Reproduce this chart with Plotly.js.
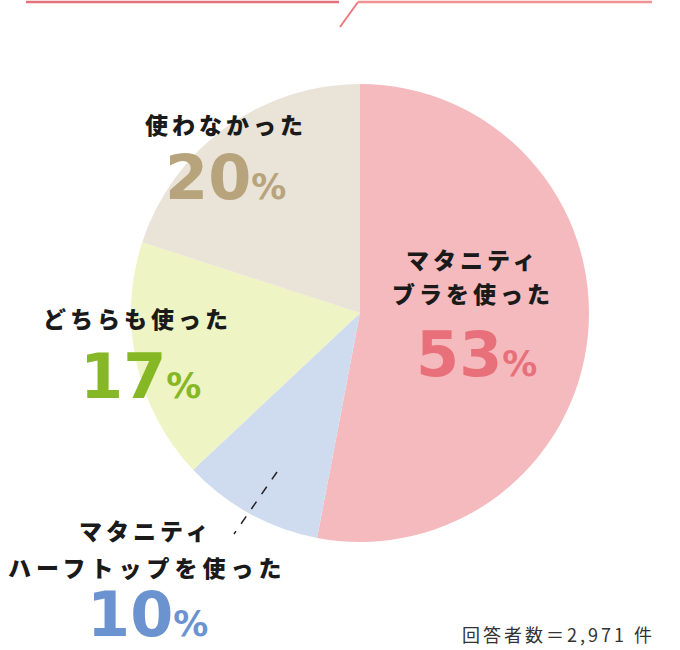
<!DOCTYPE html>
<html>
<head>
<meta charset="utf-8">
<script src="https://cdn.plot.ly/plotly-3.0.1.min.js"></script>
<style>
  body { margin: 0; background: #fff; }
  #myDiv { width: 680px; height: 650px; }
</style>
</head>
<body>
<div id="myDiv"></div>
<script>
// data
let labels = ['マタニティブラを使った', 'マタニティハーフトップを使った', 'どちらも使った', '使わなかった']
let values = [53, 10, 17, 20]
let sliceColors = ['#f5babe', '#cfdcef', '#eef4c4', '#e9e3d8']
let numColors = ['#e8707a', '#6b93d0', '#86b826', '#b8a47c']
let total = 2971

let W = 680
let H = 650

// pixel -> paper helpers
function px (x) { return x / W }
function py (y) { return 1 - y / H }

let jp = '"Noto Sans CJK JP", "Noto Sans", sans-serif'
let num = '"DejaVu Sans", sans-serif'

// label lines for each slice: [text, x, y, letter spacing]
let labelLines = [
  [['マタニティ', 473, 259, 4], ['ブラを使った', 473, 293, 4]],
  [['マタニティ', 146, 530, 4], ['ハーフトップを使った', 147, 567, 5]],
  [['どちらも使った', 137, 318, 4]],
  [['使わなかった', 226, 124, 4]]
]
// percentage position (center x, baseline y)
let pctPos = [[477, 375], [147, 635], [140, 397], [225, 198]]

let annotations = []
labelLines.forEach((lines, i) => {
  lines.forEach(l => {
    annotations.push({
      xref: 'paper', yref: 'paper', x: px(l[1]), y: py(l[2]),
      xanchor: 'center', yanchor: 'middle', showarrow: false,
      text: '<span style="letter-spacing:' + l[3] + 'px">' + l[0] + '</span>',
      font: {family: jp, size: 23, weight: 900, color: '#1a1a1a'}
    })
  })
  annotations.push({
    xref: 'paper', yref: 'paper', x: px(pctPos[i][0]), y: py(pctPos[i][1] - 21),
    xanchor: 'center', yanchor: 'middle', showarrow: false,
    text: values[i] + '<span style="font-size:35px">%</span>',
    font: {family: num, size: 62, weight: 700, color: numColors[i]}
  })
})

annotations.push({
  xref: 'paper', yref: 'paper', x: px(657), y: py(634),
  xanchor: 'right', yanchor: 'middle', showarrow: false,
  text: '<span style="letter-spacing:3px">回答者数＝' + total.toLocaleString('en-US') + ' 件</span>',
  font: {family: jp, size: 18, color: '#333333'}
})

let shapes = [
  // top decoration
  {type: 'line', xref: 'paper', yref: 'paper', x0: px(26), y0: py(2), x1: px(339), y1: py(2),
    line: {color: '#e2717b', width: 2.5}},
  {type: 'line', xref: 'paper', yref: 'paper', x0: px(340), y0: py(27), x1: px(358), y1: py(2),
    line: {color: '#ee7a80', width: 2}},
  {type: 'line', xref: 'paper', yref: 'paper', x0: px(358), y0: py(2), x1: px(652), y1: py(2),
    line: {color: '#f29292', width: 2.5}},
  // leader line for the small slice
  {type: 'line', xref: 'paper', yref: 'paper', x0: px(277), y0: py(472), x1: px(234), y1: py(534),
    line: {color: '#222222', width: 1.5, dash: 'dash'}}
]

var trace = {
  type: 'pie',
  labels: labels,
  values: values,
  sort: false,
  direction: 'clockwise',
  rotation: 0,
  textinfo: 'none',
  hoverinfo: 'label+percent',
  marker: {colors: sliceColors, line: {width: 0}},
  domain: {x: [px(131), px(589)], y: [py(542), py(84)]}
}

Plotly.newPlot('myDiv', [trace], {
  width: W, height: H,
  margin: {l: 0, r: 0, t: 0, b: 0},
  showlegend: false,
  paper_bgcolor: '#ffffff',
  annotations: annotations,
  shapes: shapes
}, {staticPlot: true})
</script>
</body>
</html>
